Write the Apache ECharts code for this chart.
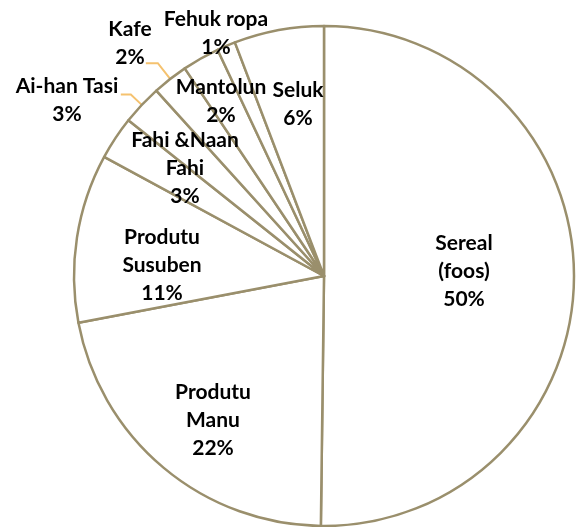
<!DOCTYPE html>
<html>
<head>
    <meta charset="utf-8">
    <title>ECharts</title>
    <script src="https://cdn.jsdelivr.net/npm/echarts@6/dist/echarts.min.js"></script>
    <style>
        html, body { margin: 0; padding: 0; background: #fff; }
    </style>
</head>
<body>
    <div id="main" style="width:576px;height:527px;"></div>
    <script type="text/javascript">

// categories and shares (%), clockwise from the top
var names = ['Sereal\n(foos)', 'Produtu\nManu', 'Produtu\nSusuben', 'Fahi &Naan\nFahi',
             'Ai-han Tasi', 'Kafe', 'Mantolun', 'Fehuk ropa', 'Seluk'];
var shares = [50.2, 21.8, 10.9, 2.8, 2.6, 2.3, 2.4, 1.2, 5.8];

// where each label block sits (centre of the text block)
var labelPos = [[464, 271], [213, 420], [162, 265], [185, 168], [67, 100],
                [130, 43], [221, 101], [216, 33], [298, 104]];
// labels that sit outside the pie, and the ones with a leader line
var outsideIdx = [4, 5, 7];
var leader = {4: [15, 10], 5: [20, 12]};

var edge = '#9A8F6C';

var myChart = echarts.init(document.getElementById('main'));

var seriesData = names.map(function (n, i) {
    var item = {name: n, value: shares[i]};
    if (outsideIdx.indexOf(i) >= 0) {
        item.label = {position: 'outside'};
        if (leader[i]) {
            item.labelLine = {show: true, length: leader[i][0], length2: leader[i][1],
                              lineStyle: {color: '#F5C26F', width: 2}};
        } else {
            item.labelLine = {show: false};
        }
    }
    return item;
});

option = {
    animation: false,
    backgroundColor: '#fff',
    series: [{
        type: 'pie',
        center: [324, 276],
        radius: 250,
        startAngle: 90,
        clockwise: true,
        avoidLabelOverlap: false,
        data: seriesData,
        itemStyle: {
            color: '#fff',
            borderColor: edge,
            borderWidth: 2.5
        },
        emphasis: {disabled: true},
        label: {
            show: true,
            position: 'inside',
            color: '#000',
            fontFamily: 'Lato',
            fontWeight: 'bold',
            fontSize: 21,
            lineHeight: 28,
            align: 'center',
            formatter: function (p) {
                return p.name + '\n' + Math.round(p.percent) + '%';
            }
        },
        labelLine: {show: false},
        labelLayout: function (params) {
            var pos = labelPos[params.dataIndex];
            return {
                x: pos[0],
                y: pos[1],
                align: 'center',
                verticalAlign: 'middle',
                labelLinePoints: params.labelLinePoints
            };
        }
    }]
};

myChart.setOption(option);
    </script>
</body>
</html>
